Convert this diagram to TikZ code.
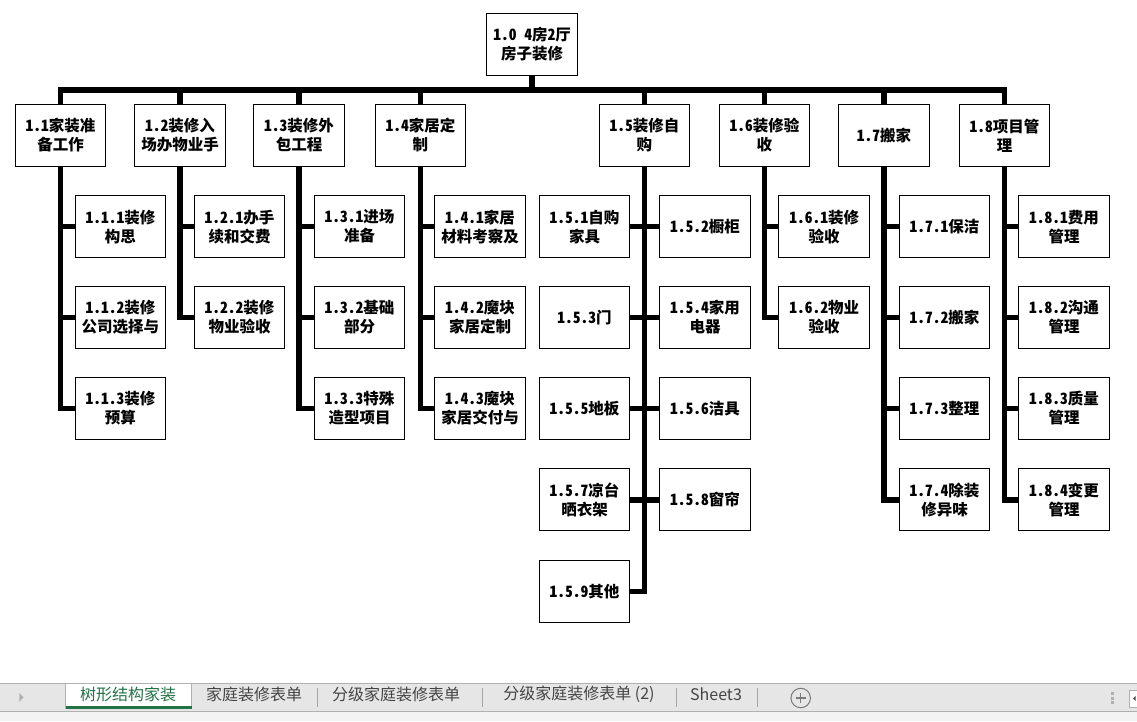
\documentclass[tikz,border=0pt]{standalone}
\usepackage{fontspec}
\usetikzlibrary{calc}
\setmainfont{Noto Sans CJK SC}
\newfontfamily\boxfont[RawFeature=+hwid]{Noto Sans CJK SC}
\definecolor{tabbg}{HTML}{E6E6E6}
\definecolor{tablow}{HTML}{F3F3F3}
\definecolor{tabline}{HTML}{B0B0B0}
\definecolor{tabsep}{HTML}{A6A6A6}
\definecolor{tabtext}{HTML}{444444}
\definecolor{xlgreen}{HTML}{217346}
\definecolor{plusgray}{HTML}{7A7A7A}
\tikzset{
  box/.style={draw=black, line width=1pt, fill=white, minimum width=90.5pt,
    minimum height=62pt, inner sep=0pt, align=center,
    font=\boxfont\fontsize{15.5pt}{19pt}\selectfont\bfseries},
  conn/.style={line width=5.5pt, draw=black},
  tabtxt/.style={font=\fontsize{16pt}{18pt}\selectfont, text=tabtext, inner sep=0pt},
  sepline/.style={draw=tabsep, line width=0.8pt},
}
\begin{document}
\begin{tikzpicture}[x=1pt,y=-1pt]
\useasboundingbox (0,0) rectangle (1137,721);
\fill[white] (0,0) rectangle (1137,721);

% ---------- nodes ----------
\node[box] (r) at (532.2,44.3) {1.0 4房2厅\\房子装修};

\node[box] (n11) at (60.5,135.3) {1.1家装准\\备工作};
\node[box] (n12) at (180,135.3) {1.2装修入\\场办物业手};
\node[box] (n13) at (299,135.3) {1.3装修外\\包工程};
\node[box] (n14) at (420.4,135.3) {1.4家居定\\制};
\node[box] (n15) at (644.4,135.3) {1.5装修自\\购};
\node[box] (n16) at (764.4,135.3) {1.6装修验\\收};
\node[box] (n17) at (884,135.3) {1.7搬家};
\node[box] (n18) at (1004.5,135.3) {1.8项目管\\理};

\node[box] (n111) at (120.4,226.7) {1.1.1装修\\构思};
\node[box] (n112) at (120.4,317.5) {1.1.2装修\\公司选择与};
\node[box] (n113) at (120.4,408.5) {1.1.3装修\\预算};

\node[box] (n121) at (239.5,226.7) {1.2.1办手\\续和交费};
\node[box] (n122) at (239.5,317.5) {1.2.2装修\\物业验收};

\node[box] (n131) at (359.5,226.7) {1.3.1进场\\准备};
\node[box] (n132) at (359.5,317.5) {1.3.2基础\\部分};
\node[box] (n133) at (359.5,408.5) {1.3.3特殊\\造型项目};

\node[box] (n141) at (480,226.7) {1.4.1家居\\材料考察及};
\node[box] (n142) at (480,317.5) {1.4.2魔块\\家居定制};
\node[box] (n143) at (480,408.5) {1.4.3魔块\\家居交付与};

\node[box] (n151) at (584.6,226.7) {1.5.1自购\\家具};
\node[box] (n152) at (705,226.7) {1.5.2橱柜};
\node[box] (n153) at (584.6,317.5) {1.5.3门};
\node[box] (n154) at (705,317.5) {1.5.4家用\\电器};
\node[box] (n155) at (584.6,408.5) {1.5.5地板};
\node[box] (n156) at (705,408.5) {1.5.6洁具};
\node[box] (n157) at (584.6,499.8) {1.5.7凉台\\晒衣架};
\node[box] (n158) at (705,499.8) {1.5.8窗帘};
\node[box] (n159) at (584.6,591.3) {1.5.9其他};

\node[box] (n161) at (824.2,226.7) {1.6.1装修\\验收};
\node[box] (n162) at (824.2,317.5) {1.6.2物业\\验收};

\node[box] (n171) at (944.5,226.7) {1.7.1保洁};
\node[box] (n172) at (944.5,317.5) {1.7.2搬家};
\node[box] (n173) at (944.5,408.5) {1.7.3整理};
\node[box] (n174) at (944.5,499.8) {1.7.4除装\\修异味};

\node[box] (n181) at (1064,226.7) {1.8.1费用\\管理};
\node[box] (n182) at (1064,317.5) {1.8.2沟通\\管理};
\node[box] (n183) at (1064,408.5) {1.8.3质量\\管理};
\node[box] (n184) at (1064,499.8) {1.8.4变更\\管理};

% ---------- connectors ----------
\coordinate (busY) at (0,89.8);
\draw[conn] (r.south) -- (r.south |- busY);
\draw[conn] (n11.north) |- (n14.north |- busY) -| (n18.north);
\foreach \k in {12,13,14,15,16,17}{
  \draw[conn] (n\k.north) -- (n\k.north |- busY);
}

\draw[conn] (n11.south) |- (n113.west);
\draw[conn] (n11.south |- n111.west) -- (n111.west);
\draw[conn] (n11.south |- n112.west) -- (n112.west);

\draw[conn] (n12.south) |- (n122.west);
\draw[conn] (n12.south |- n121.west) -- (n121.west);

\draw[conn] (n13.south) |- (n133.west);
\draw[conn] (n13.south |- n131.west) -- (n131.west);
\draw[conn] (n13.south |- n132.west) -- (n132.west);

\draw[conn] (n14.south) |- (n143.west);
\draw[conn] (n14.south |- n141.west) -- (n141.west);
\draw[conn] (n14.south |- n142.west) -- (n142.west);

\draw[conn] (n15.south) |- (n159.east);
\draw[conn] (n151.east) -- (n152.west);
\draw[conn] (n153.east) -- (n154.west);
\draw[conn] (n155.east) -- (n156.west);
\draw[conn] (n157.east) -- (n158.west);

\draw[conn] (n16.south) |- (n162.west);
\draw[conn] (n16.south |- n161.west) -- (n161.west);

\draw[conn] (n17.south) |- (n174.west);
\draw[conn] (n17.south |- n171.west) -- (n171.west);
\draw[conn] (n17.south |- n172.west) -- (n172.west);
\draw[conn] (n17.south |- n173.west) -- (n173.west);

\draw[conn] (n18.south) |- (n184.west);
\draw[conn] (n18.south |- n181.west) -- (n181.west);
\draw[conn] (n18.south |- n182.west) -- (n182.west);
\draw[conn] (n18.south |- n183.west) -- (n183.west);

% ---------- sheet tab bar ----------
\fill[tabbg] (0,683) rectangle (1137,711.5);
\fill[tablow] (0,711.5) rectangle (1137,721);
\draw[tabline, line width=1pt] (0,683.5) -- (1137,683.5);
\draw[tabline, line width=1pt] (0,711.5) -- (1137,711.5);
\fill[white] (65.7,684) rectangle (191.7,708.5);
\draw[tabline, line width=0.8pt] (65.7,683.5) -- (65.7,708.5);
\draw[tabline, line width=0.8pt] (191.7,683.5) -- (191.7,708.5);
\fill[xlgreen] (65.7,706.2) rectangle (191.7,708.8);
\fill[tabline] (19.3,693) -- (23.5,697.4) -- (19.3,701.8) -- cycle;

\node[tabtxt, text=xlgreen] (t1) at (128,694.5) {树形结构家装};
\node[tabtxt] (t2) at (254,694.5) {家庭装修表单};
\node[tabtxt] (t3) at (396,694.5) {分级家庭装修表单};
\node[tabtxt] (t4) at (579,694.5) {分级家庭装修表单 (2)};
\node[tabtxt] (t5) at (716,694.5) {Sheet3};

\draw[sepline] (317.5,688) -- (317.5,706.5);
\draw[sepline] (482,688) -- (482,706.5);
\draw[sepline] (676.6,688) -- (676.6,706.5);
\draw[sepline] (757.5,688) -- (757.5,706.5);

\node[draw=plusgray, line width=1pt, circle, minimum size=19.5pt, inner sep=0pt] (plus) at (800.7,698) {};
\draw[plusgray, line width=1.2pt] ($(plus.center)+(-5,0)$) -- ($(plus.center)+(5,0)$);
\draw[plusgray, line width=1.2pt] ($(plus.center)+(0,-5)$) -- ($(plus.center)+(0,5)$);

\fill[tabline] (1111,691.7) rectangle (1113.5,695);
\fill[tabline] (1111,696.7) rectangle (1113.5,699.5);
\fill[tabline] (1111,700.8) rectangle (1113.5,703.5);

\filldraw[fill=white, draw=tabline, line width=0.8pt] (1129.5,690) rectangle (1140,707);
\fill[tabtext] (1135.5,696) -- (1133,698.5) -- (1135.5,701) -- cycle;
\end{tikzpicture}
\end{document}
